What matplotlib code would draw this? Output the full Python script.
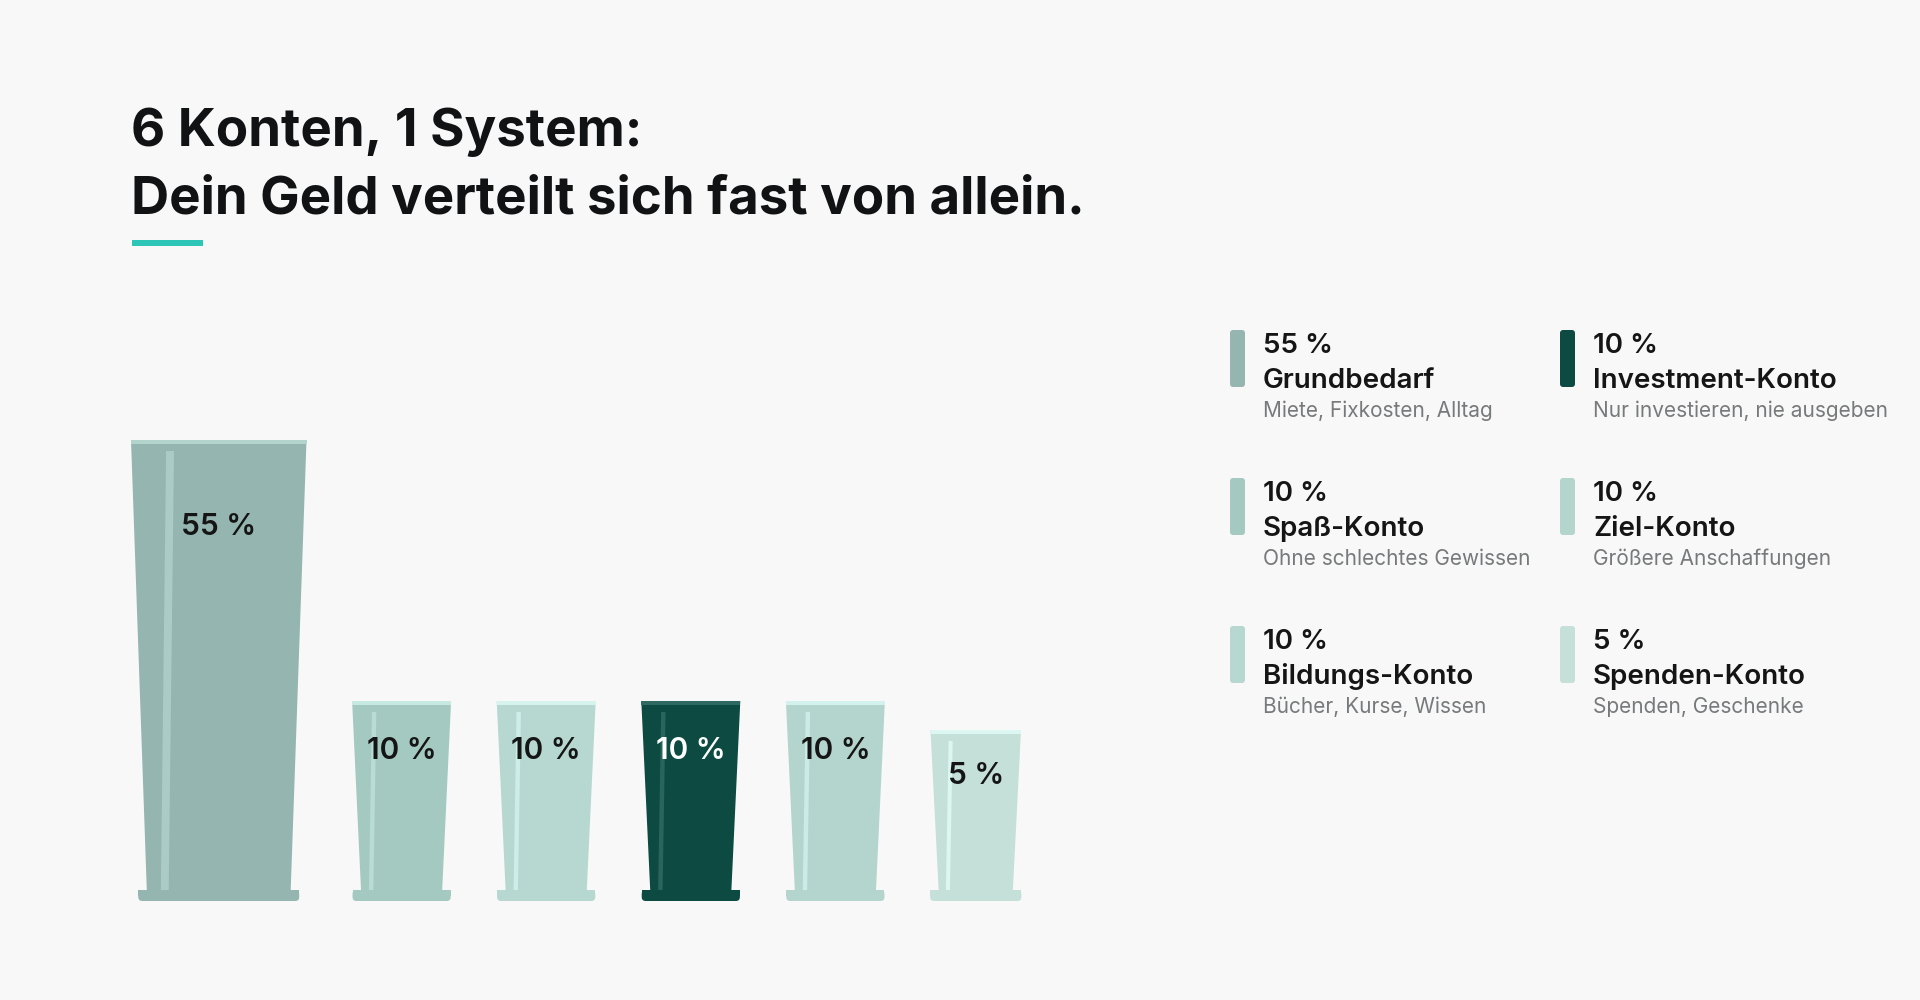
import numpy as np
import matplotlib.pyplot as plt
from matplotlib.patches import Polygon, Rectangle, FancyBboxPatch

plt.rcParams['font.family'] = ['Inter', 'DejaVu Sans']

# Daten
konten = ["Grundbedarf", "Spaß-Konto", "Bildungs-Konto", "Investment-Konto", "Ziel-Konto", "Spenden-Konto"]
anteile = [55, 10, 10, 10, 10, 5]
beschreibung = ["Miete, Fixkosten, Alltag", "Ohne schlechtes Gewissen", "Bücher, Kurse, Wissen",
                "Nur investieren, nie ausgeben", "Größere Anschaffungen", "Spenden, Geschenke"]
farben = ["#95b5b0", "#a4c9c1", "#b7d7d1", "#0d4a42", "#b4d4ce", "#c5dfd9"]
randfarben = ["#b3d4cd", "#c8e8e2", "#d6f3ee", "#2e6a61", "#d4f2ed", "#dcf7f2"]
lichtfarben = ["#aacbc6", "#b9dcd5", "#cdeee8", "#2a655c", "#cbece6", "#dcf7f2"]
textfarben = ["#151515", "#151515", "#151515", "#ffffff", "#151515", "#151515"]
legende_reihenfolge = [0, 3, 1, 4, 2, 5]

# Glasgeometrie (Pixel)
boden = 901
fuss_h = 11
luecke = 45

fig = plt.figure(figsize=(19.2, 10), dpi=100)
fig.patch.set_facecolor("#f8f8f8")
ax = fig.add_axes([0, 0, 1, 1])
ax.set_xlim(0, 1920)
ax.set_ylim(1000, 0)
ax.axis("off")

# Titel
ax.text(131, 146, "6 Konten, 1 System:", fontsize=38, weight="bold", color="#111214", va="baseline")
ax.text(131, 213, "Dein Geld verteilt sich fast von allein.", fontsize=38, weight="bold",
        color="#111214", va="baseline")
ax.add_patch(Rectangle((132, 240), 71, 6, color="#2cc5b6", lw=0))

# Gläser
links = 131
for i, v in enumerate(anteile):
    b_oben = 82 + 1.7 * v
    h = 142 + 5.8 * v
    b_unten = 0.82 * b_oben
    oben = boden - h
    fuss_oben = boden - fuss_h
    cx = links + b_oben / 2

    koerper = [(links, oben), (links + b_oben, oben),
               (cx + b_unten / 2, fuss_oben), (cx - b_unten / 2, fuss_oben)]
    ax.add_patch(Polygon(koerper, closed=True, color=farben[i], lw=0))

    # Fuß
    b_fuss = b_unten + 17
    r = 4
    ax.add_patch(Rectangle((cx - b_fuss / 2, fuss_oben), b_fuss, fuss_h / 2, color=farben[i], lw=0))
    ax.add_patch(FancyBboxPatch((cx - b_fuss / 2 + r, fuss_oben + r), b_fuss - 2 * r, fuss_h - 2 * r,
                                boxstyle="round,pad=%s" % r, color=farben[i], lw=0))

    # Rand
    ax.add_patch(Rectangle((links, oben), b_oben, 4.3, color=randfarben[i], lw=0))

    # Lichtreflex
    hb = 0.045 * b_oben
    xt = links + 0.2 * b_oben
    xb = xt - 0.03 * b_oben
    ax.add_patch(Polygon([(xt, oben + 11), (xt + hb, oben + 11), (xb + hb, fuss_oben), (xb, fuss_oben)],
                         closed=True, color=lichtfarben[i], lw=0))

    ax.text(cx, oben + 22 + 0.14 * h, f"{v} %", fontsize=21.5, weight="semibold",
            color=textfarben[i], ha="center", va="center")

    links += b_oben + luecke + 0.6

# Legende
spalten_x = [1230, 1560]
zeilen_y = [353, 501, 649]
for k, i in enumerate(legende_reihenfolge):
    x = spalten_x[k % 2]
    y = zeilen_y[k // 2]
    ax.add_patch(FancyBboxPatch((x + 3, y - 23 + 3), 15 - 6, 57 - 6, boxstyle="round,pad=3",
                                color=farben[i], lw=0))
    ax.text(x + 33, y, f"{anteile[i]} %", fontsize=20, weight="semibold", color="#151515", va="baseline")
    ax.text(x + 33, y + 35, konten[i], fontsize=20, weight="semibold", color="#151515", va="baseline")
    ax.text(x + 33, y + 64, beschreibung[i], fontsize=15, color="#77797b", va="baseline")

fig.savefig("out.png", dpi=100, facecolor=fig.get_facecolor())
